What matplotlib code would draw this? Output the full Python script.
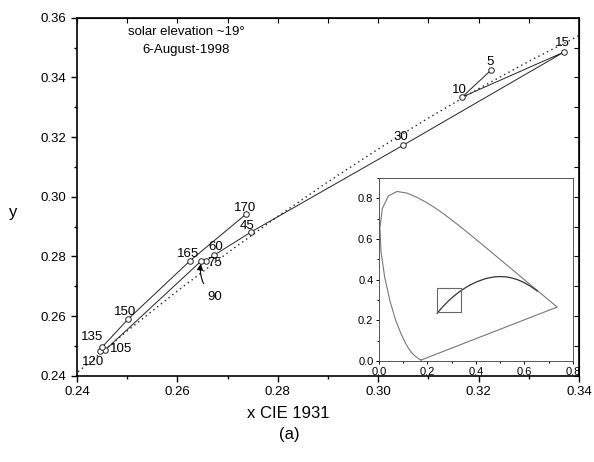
import numpy as np
import matplotlib
matplotlib.use('Agg')
import matplotlib.pyplot as plt
from matplotlib.ticker import MultipleLocator

plt.rcParams['font.family'] = ['Liberation Sans', 'DejaVu Sans']
NARROW = ['Liberation Sans Narrow', 'Liberation Sans', 'DejaVu Sans']

# chromaticity of the sky vs. viewing angle (deg)
ANGLES = [5, 10, 15, 30, 45, 60, 75, 90, 105, 120, 135, 150, 165, 170]
CX = [0.3225, 0.3167, 0.3370, 0.3050, 0.2747, 0.2673, 0.2657, 0.2647,
      0.2456, 0.2446, 0.2450, 0.2502, 0.2625, 0.2737]
CY = [0.3425, 0.3334, 0.3485, 0.3173, 0.2882, 0.2804, 0.2784, 0.2784,
      0.2486, 0.2483, 0.2496, 0.2590, 0.2785, 0.2942]

# dotted curve (daylight locus)
DOT_X = [0.238, 0.25, 0.26, 0.27, 0.28, 0.29, 0.30, 0.31, 0.32, 0.33, 0.34]
DOT_Y = [0.2382, 0.2550, 0.2684, 0.2812, 0.2934, 0.3050, 0.3160, 0.3264, 0.3362, 0.3454, 0.3540]

# CIE 1931 spectral locus, 380..700 nm
LOC_X = [0.1741, 0.1740, 0.1738, 0.1736, 0.1733, 0.1730, 0.1726, 0.1721, 0.1714, 0.1703,
         0.1689, 0.1669, 0.1644, 0.1611, 0.1566, 0.1510, 0.1440, 0.1355, 0.1241, 0.1096,
         0.0913, 0.0687, 0.0454, 0.0235, 0.0082, 0.0039, 0.0139, 0.0389, 0.0743, 0.1142,
         0.1547, 0.1929, 0.2296, 0.2658, 0.3016, 0.3373, 0.3731, 0.4087, 0.4441, 0.4788,
         0.5125, 0.5448, 0.5752, 0.6029, 0.6270, 0.6482, 0.6658, 0.6801, 0.6915, 0.7006,
         0.7079, 0.7140, 0.7190, 0.7230, 0.7260, 0.7300, 0.7320, 0.7334, 0.7347]
LOC_Y = [0.0050, 0.0050, 0.0049, 0.0049, 0.0048, 0.0048, 0.0048, 0.0048, 0.0051, 0.0058,
         0.0069, 0.0086, 0.0109, 0.0138, 0.0177, 0.0227, 0.0297, 0.0399, 0.0578, 0.0868,
         0.1327, 0.2007, 0.2950, 0.4127, 0.5384, 0.6548, 0.7502, 0.8120, 0.8338, 0.8262,
         0.8059, 0.7816, 0.7543, 0.7243, 0.6923, 0.6589, 0.6245, 0.5896, 0.5547, 0.5202,
         0.4866, 0.4544, 0.4242, 0.3965, 0.3725, 0.3514, 0.3340, 0.3197, 0.3083, 0.2993,
         0.2920, 0.2859, 0.2809, 0.2770, 0.2740, 0.2700, 0.2680, 0.2666, 0.2653]

# Planckian locus, 1000 K .. infinity
PL_X = [0.6528, 0.6251, 0.5985, 0.5728, 0.5486, 0.5267, 0.5018, 0.4770, 0.4520, 0.4369,
        0.4053, 0.3805, 0.3608, 0.3451, 0.3325, 0.3221, 0.3135, 0.3064, 0.2952, 0.2869,
        0.2807, 0.2719, 0.2637, 0.2564, 0.2501, 0.2451, 0.2418, 0.2399]
PL_Y = [0.3444, 0.3674, 0.3858, 0.3993, 0.4082, 0.4133, 0.4153, 0.4137, 0.4086, 0.4041,
        0.3907, 0.3768, 0.3636, 0.3516, 0.3411, 0.3318, 0.3236, 0.3166, 0.3048, 0.2956,
        0.2884, 0.2776, 0.2675, 0.2577, 0.2489, 0.2418, 0.2372, 0.2340]

# label offsets (points) from each marker; 90 gets an arrow instead
OFFS = {5: (-1, 6), 10: (-2, 5), 15: (-1, 6.5), 30: (-2, 6), 45: (-3, 4.5), 60: (1, 6),
        75: (6.5, -1.5), 105: (11.5, 0.5), 120: (-5, -8), 135: (-7, 7), 150: (-2, 5),
        165: (-1.5, 5), 170: (-1, 4.5)}

fig = plt.figure(figsize=(5.94, 4.62), dpi=100)
ax = fig.add_axes([0.1296, 0.1868, 0.8454, 0.7749])

ax.plot(DOT_X, DOT_Y, ls=(0, (1, 2.5)), color='#222222', lw=1.0)
ax.plot(CX, CY, '-', color='#222222', lw=0.7, marker='o', ms=4, mfc='white',
        mec='#222222', mew=0.7, zorder=3)
for a, x, y in zip(ANGLES, CX, CY):
    if a == 90:
        ax.annotate('90', xy=(x, y - 0.0004), xytext=(0.2675, 0.2663), fontsize=9.5,
                    ha='center', va='center',
                    arrowprops=dict(arrowstyle='-|>', color='black', lw=0.8,
                                    connectionstyle='arc3,rad=-0.3', shrinkA=4, shrinkB=1,
                                    mutation_scale=9))
        continue
    dx, dy = OFFS[a]
    ax.annotate(str(a), (x, y), xytext=(dx, dy), textcoords='offset points',
                fontsize=9.5, ha='center', va='center')

ax.set_xlim(0.24, 0.34)
ax.set_ylim(0.24, 0.36)
ax.xaxis.set_major_locator(MultipleLocator(0.02))
ax.xaxis.set_minor_locator(MultipleLocator(0.01))
ax.yaxis.set_major_locator(MultipleLocator(0.02))
ax.yaxis.set_minor_locator(MultipleLocator(0.01))
ax.xaxis.set_major_formatter(lambda v, p: '%.2f' % v)
ax.yaxis.set_major_formatter(lambda v, p: '%.2f' % v)
ax.tick_params(which='major', direction='out', length=4, width=1, labelsize=9.5)
ax.tick_params(which='minor', direction='out', length=2.5, width=1)
for lab in ax.get_xticklabels() + ax.get_yticklabels():
    lab.set_family(NARROW)
for s in ax.spines.values():
    s.set_linewidth(1.2)
top = ax.secondary_xaxis('top')
top.xaxis.set_major_locator(MultipleLocator(0.01))
top.tick_params(direction='in', length=3.5, labeltop=False)
rgt = ax.secondary_yaxis('right')
rgt.yaxis.set_major_locator(MultipleLocator(0.01))
rgt.tick_params(direction='in', length=3.5, labelright=False)

ax.text(0.2618, 0.3553, 'solar elevation ~19°', fontsize=9.5, ha='center', va='center')
ax.text(0.2618, 0.3492, '6-August-1998', fontsize=9.5, ha='center', va='center')
fig.text(288 / 594, 1 - 414 / 462, 'x CIE 1931', fontsize=12, ha='center', va='center')
fig.text(13 / 594, 1 - 212 / 462, 'y', fontsize=12, ha='center', va='center')
fig.text(289 / 594, 1 - 434 / 462, '(a)', fontsize=12, ha='center', va='center')

# inset: full chromaticity diagram
ins = fig.add_axes([0.638, 0.2186, 0.3266, 0.3961])
ins.plot(LOC_X + [LOC_X[0]], LOC_Y + [LOC_Y[0]], color='#777777', lw=0.8)
ins.plot(PL_X, PL_Y, color='#333333', lw=0.9)
ins.plot([0.24, 0.34, 0.34, 0.24, 0.24], [0.24, 0.24, 0.36, 0.36, 0.24],
         color='#666666', lw=0.8)
ins.set_xlim(0, 0.8)
ins.set_ylim(0, 0.9)
ins.xaxis.set_major_locator(MultipleLocator(0.2))
ins.xaxis.set_minor_locator(MultipleLocator(0.1))
ins.yaxis.set_major_locator(MultipleLocator(0.2))
ins.yaxis.set_minor_locator(MultipleLocator(0.1))
ins.xaxis.set_major_formatter(lambda v, p: '%.1f' % v)
ins.yaxis.set_major_formatter(lambda v, p: '%.1f' % v)
ins.tick_params(which='both', direction='out', length=2.5, width=0.7, labelsize=8, pad=1.5)
ins.tick_params(which='minor', length=1.5)
for s in ins.spines.values():
    s.set_linewidth(0.7)
    s.set_color('#555555')

fig.savefig('out.png', dpi=100)
